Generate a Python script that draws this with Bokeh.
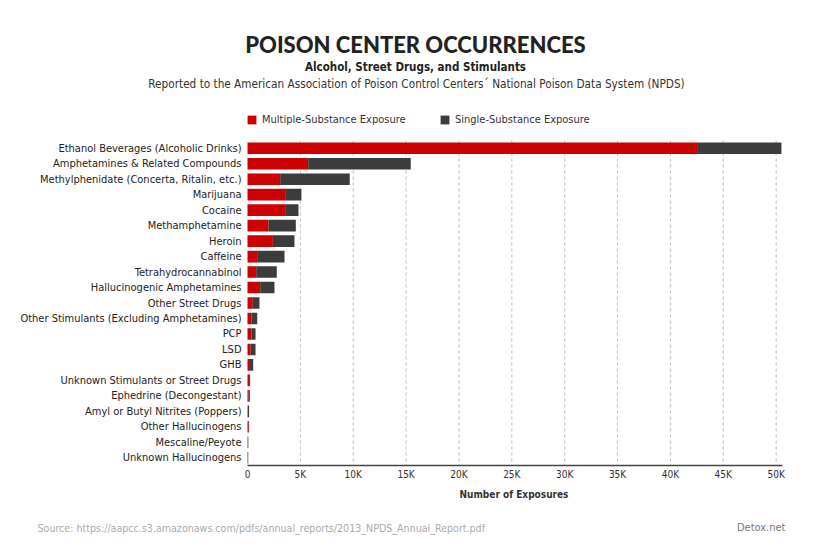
from bokeh.plotting import figure
from bokeh.layouts import column
from bokeh.core.properties import value
from bokeh.models import ColumnDataSource, Range1d, FixedTicker, Label, Legend, LegendItem
from bokeh.embed import file_html
from bokeh.resources import INLINE

# ---------------- data ----------------
categories = [
    "Ethanol Beverages (Alcoholic Drinks)",
    "Amphetamines & Related Compounds",
    "Methylphenidate (Concerta, Ritalin, etc.)",
    "Marijuana",
    "Cocaine",
    "Methamphetamine",
    "Heroin",
    "Caffeine",
    "Tetrahydrocannabinol",
    "Hallucinogenic Amphetamines",
    "Other Street Drugs",
    "Other Stimulants (Excluding Amphetamines)",
    "PCP",
    "LSD",
    "GHB",
    "Unknown Stimulants or Street Drugs",
    "Ephedrine (Decongestant)",
    "Amyl or Butyl Nitrites (Poppers)",
    "Other Hallucinogens",
    "Mescaline/Peyote",
    "Unknown Hallucinogens",
]
multiple_substance = [42600, 5740, 3090, 3560, 3560, 1990, 2400, 980, 820, 1200,
                      500, 380, 380, 300, 150, 150, 120, 30, 120, 20, 10]
single_substance = [7900, 9700, 6580, 1540, 1260, 2580, 2040, 2520, 1950, 1350,
                    630, 540, 380, 460, 390, 100, 100, 120, 30, 60, 60]
series_names = ["Multiple-Substance Exposure", "Single-Substance Exposure"]
tick_values = [0, 5000, 10000, 15000, 20000, 25000, 30000, 35000, 40000, 45000, 50000]
tick_labels = ["0", "5K", "10K", "15K", "20K", "25K", "30K", "35K", "40K", "45K", "50K"]
x_max = 50600

# ---------------- style / layout constants ----------------
RED = "#cc0000"
DARK = "#3c3c3c"
TXT = "#333333"
FONT = "DejaVu Sans Condensed"
W, H = 830, 554
MAIN_H = 486                       # main figure height (footer below)
PLOT_LEFT, PLOT_RIGHT = 247, 782   # pixel extent of the value axis
PLOT_TOP, PLOT_BOTTOM = 140, 465   # pixel extent of the category rows

n = len(categories)
row_px = (PLOT_BOTTOM - PLOT_TOP) / n
px_per_unit = (PLOT_RIGHT - PLOT_LEFT) / x_max

source = ColumnDataSource(dict(
    idx=list(range(n)), cat=categories,
    multiple=multiple_substance, single=single_substance,
))

p = figure(
    width=W, height=MAIN_H,
    x_range=Range1d(-PLOT_LEFT / px_per_unit, (W - PLOT_LEFT) / px_per_unit),
    y_range=Range1d(n - 0.5, -0.5 - PLOT_TOP / row_px),
    y_axis_location=None,
    output_backend="svg", toolbar_location=None, tools="",
    min_border_left=0, min_border_right=0, min_border_top=0,
    min_border_bottom=MAIN_H - PLOT_BOTTOM,
    background_fill_color="white", border_fill_color="white",
)
p.outline_line_color = None
p.grid.grid_line_color = None

# dashed vertical grid lines limited to the bar area
grid_src = ColumnDataSource(dict(t=tick_values[1:]))
p.segment(x0="t", x1="t", y0=-0.5, y1=n - 0.5, source=grid_src,
          line_color="#bbbbbb", line_dash="3 3", line_width=1, level="underlay")

renderers = p.hbar_stack(["multiple", "single"], y="idx", height=0.75,
                         color=[RED, DARK], source=source, line_width=0)

# category labels
p.text(x=0, y="idx", text="cat", source=source, x_offset=-6,
       text_align="right", text_baseline="middle",
       text_font=value(FONT), text_font_size="11px", text_color="#222222")

# x axis
p.xaxis.bounds = (0, x_max)
p.xaxis.ticker = FixedTicker(ticks=tick_values)
p.xaxis.major_label_overrides = {v: l for v, l in zip(tick_values, tick_labels)}
p.xaxis.axis_line_color = "#444444"
p.xaxis.axis_line_width = 1.5
p.xaxis.major_tick_line_color = None
p.xaxis.minor_tick_line_color = None
p.xaxis.major_tick_out = 0
p.xaxis.major_tick_in = 0
p.xaxis.major_label_text_font = FONT
p.xaxis.major_label_text_font_size = "10px"
p.xaxis.major_label_text_color = TXT
p.xaxis.major_label_standoff = 3

# legend
legend = Legend(
    items=[LegendItem(label=series_names[0], renderers=[renderers[0]]),
           LegendItem(label=series_names[1], renderers=[renderers[1]])],
    orientation="horizontal", location=(246, PLOT_BOTTOM - 126),
    glyph_width=11, glyph_height=11, label_standoff=5, label_width=160, spacing=17,
    padding=0, margin=0, label_text_font=FONT, label_text_font_size="11px",
    label_text_color=TXT, background_fill_alpha=0, border_line_color=None,
)
p.add_layout(legend, "center")

# header texts (screen units: from the frame's bottom-left, y upward)
def head_label(text, x, y_top, size, style, color, font):
    p.add_layout(Label(x=x, y=PLOT_BOTTOM - y_top, x_units="screen", y_units="screen",
                       text=text, text_font=font, text_font_size=size, text_font_style=style,
                       text_color=color, text_align="center", text_baseline="middle"))

head_label("POISON CENTER OCCURRENCES", 415, 44, "22px", "bold", "#222222", "Lato Black")
head_label("Alcohol, Street Drugs, and Stimulants", 415, 66, "11.5px", "bold", "#222222", FONT)
head_label("Reported to the American Association of Poison Control Centers\u00b4 National Poison Data System (NPDS)",
           416, 83, "11.7px", "normal", "#333333", FONT)

# ---------------- footer: axis title + source ----------------
FOOT_H = H - MAIN_H
footer = figure(width=W, height=FOOT_H, x_range=Range1d(0, W), y_range=Range1d(FOOT_H, 0),
                x_axis_location=None, y_axis_location=None,
                output_backend="svg", toolbar_location=None, tools="",
                min_border_left=0, min_border_right=0, min_border_top=0, min_border_bottom=0,
                background_fill_color="white", border_fill_color="white")
footer.outline_line_color = None
footer.grid.grid_line_color = None
footer.add_layout(Label(x=(PLOT_LEFT + PLOT_RIGHT) / 2 - 1, y=494 - MAIN_H, text="Number of Exposures",
                        text_font=FONT, text_font_size="10px", text_font_style="bold",
                        text_color=TXT, text_align="center", text_baseline="middle"))
footer.add_layout(Label(x=37, y=527 - MAIN_H,
                        text="Source: https://aapcc.s3.amazonaws.com/pdfs/annual_reports/2013_NPDS_Annual_Report.pdf",
                        text_font=FONT, text_font_size="10.6px", text_color="#aaaaaa",
                        text_align="left", text_baseline="middle"))
footer.add_layout(Label(x=785, y=527 - MAIN_H, text="Detox.net", text_font=FONT, text_font_size="11px",
                        text_color="#777777", text_align="right", text_baseline="middle"))

layout = column(p, footer, spacing=0)
open("out.html", "w").write(file_html(layout, INLINE))
